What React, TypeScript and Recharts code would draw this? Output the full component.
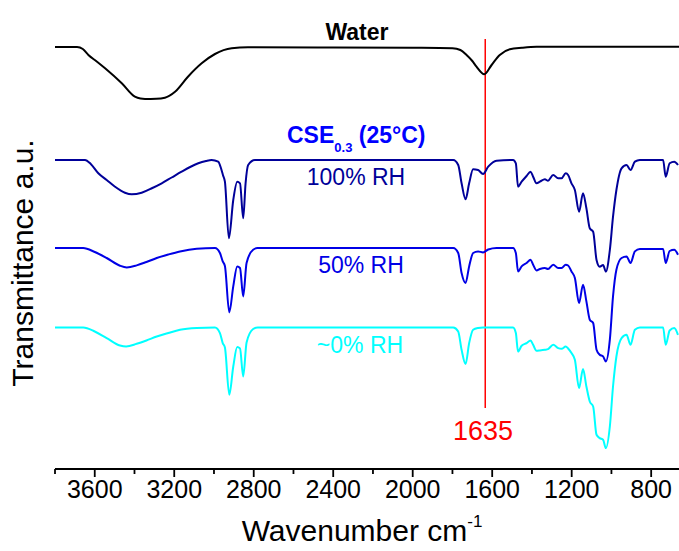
import { CartesianGrid, Line, LineChart, ReferenceLine, XAxis, YAxis } from "recharts";

// FTIR-спектры: пары [волновое число, отклонение от базовой линии]
const WATER: [number, number][] = [
  [3800, 0], [3689, 0], [3660, -2], [3632, -8], [3590, -14.5], [3548, -21.3],
  [3464, -36.3], [3398, -49.7], [3370, -51.6], [3347, -52], [3290, -51.8],
  [3247, -50.7], [3196, -44.7], [3131, -29.7], [3062, -16.3], [2995, -7],
  [2911, -1.3], [2829, -0.3], [2400, -0.5], [2000, -0.8], [1800, -1.2],
  [1760, -3], [1729, -8], [1700, -14], [1679, -19.7], [1640, -27.3],
  [1603, -18], [1562, -8], [1511, -2.3], [1450, -0.8], [1377, 0.2],
  [1000, 0.3], [660, 0.3],
];

const RH100: [number, number][] = [
  [3800, 0], [3649, 0], [3620, -4], [3582, -13.3], [3540, -20], [3498, -26.7],
  [3448, -32.7], [3414, -34.3], [3364, -32.7], [3310, -28], [3263, -23.3],
  [3213, -17.5], [3163, -11.7], [3120, -7], [3079, -3.3], [3040, -1],
  [3012, 0], [2979, -1.7], [2965, -8], [2955, -15], [2945, -21.7],
  [2925, -78.3], [2903, -40], [2883, -21.7], [2869, -23.3], [2853, -58.3],
  [2841, -23.3], [2828, -5], [2794, 0], [1796, 0], [1771, -5], [1754, -23.3],
  [1734, -39.3], [1716, -23.3], [1696, -9.3], [1671, -10], [1646, -14],
  [1620, -6.7], [1578, -0.7], [1495, 0], [1481, -3.3], [1470, -26.7],
  [1452, -21.7], [1427, -16], [1407, -11.7], [1394, -16.7], [1377, -23.3],
  [1360, -21.7], [1335, -19.3], [1319, -20.7], [1293, -15], [1268, -18.3],
  [1251, -18.3], [1230, -13.3], [1218, -15], [1201, -23.3], [1184, -30],
  [1163, -51.7], [1143, -33.3], [1126, -48.3], [1109, -68.3], [1092, -71.7],
  [1075, -100], [1059, -106.7], [1042, -105], [1028, -111.7], [1008, -90],
  [992, -56.7], [975, -30], [949, -8.3], [924, -5], [904, -10], [882, -1.7],
  [857, 0], [740, 0], [727, -16.7], [707, -3.3], [684, -1.7], [665, -5],
];

const RH50: [number, number][] = [
  [3800, 0], [3658, 0], [3600, -4], [3540, -10], [3473, -17.7], [3439, -19.4],
  [3389, -17.4], [3340, -14], [3288, -10], [3230, -6.5], [3171, -3.4],
  [3087, -0.7], [2995, 0], [2970, -5], [2956, -13.4], [2945, -18],
  [2923, -64.4], [2903, -38.4], [2883, -18.4], [2869, -20], [2853, -48.4],
  [2836, -15], [2803, -1.7], [2780, 0], [1796, 0], [1771, -5], [1754, -25],
  [1734, -35], [1716, -18.4], [1696, -5], [1671, -3.4], [1646, -4.4],
  [1620, -1.5], [1578, 0], [1495, 0], [1481, -5], [1470, -23.4], [1452, -18.4],
  [1427, -15], [1407, -11.7], [1394, -16.7], [1377, -22.4], [1360, -21],
  [1335, -20], [1319, -21], [1293, -16.7], [1268, -20], [1251, -20],
  [1230, -16.7], [1218, -17.5], [1201, -23.4], [1184, -30], [1163, -55],
  [1143, -36.7], [1126, -53.4], [1109, -71.7], [1092, -75], [1075, -101.7],
  [1059, -106.7], [1042, -108.4], [1028, -113.4], [1008, -91.7], [992, -48.4],
  [975, -21.7], [949, -10], [924, -8.4], [904, -15], [882, -3.4], [857, -1],
  [740, -1], [727, -15], [707, -3], [684, -1.7], [665, -6.7],
];

const RH0: [number, number][] = [
  [3800, 0], [3658, 0], [3600, -4], [3540, -10.6], [3473, -18], [3442, -19],
  [3389, -16.3], [3340, -13], [3288, -9], [3230, -5.5], [3171, -2.3],
  [3087, -0.5], [2995, 0], [2970, -5.6], [2956, -15.6], [2945, -20],
  [2923, -67.3], [2903, -39], [2883, -19.6], [2869, -21], [2853, -49],
  [2836, -15], [2803, -1.5], [2780, 0], [1796, 0], [1771, -4], [1754, -22.3],
  [1734, -36.6], [1716, -15.6], [1696, -2.3], [1671, -0.5], [1646, 0],
  [1495, 0], [1481, -5.6], [1470, -24], [1452, -18.3], [1427, -15.6],
  [1407, -13], [1394, -17.3], [1377, -23.3], [1360, -23], [1335, -22.3],
  [1319, -21.6], [1293, -17.3], [1268, -20.6], [1251, -21.3], [1230, -19],
  [1218, -21], [1201, -25.6], [1184, -32.3], [1163, -60.6], [1143, -41.6],
  [1126, -59], [1109, -74], [1092, -79], [1075, -107.3], [1059, -110.6],
  [1042, -112.3], [1028, -120.6], [1008, -99], [992, -59], [975, -29],
  [949, -10.6], [924, -7.3], [904, -17.3], [882, -2.3], [857, 0], [740, 0],
  [727, -17.3], [707, -3], [684, -0.5], [665, -7.3],
];

// смещения кривых по вертикали (стопка спектров)
const OFFSET_WATER = 422;
const OFFSET_100 = 309;
const OFFSET_50 = 221;
const OFFSET_0 = 141.5;

const X_TICKS = [3800, 3600, 3400, 3200, 3000, 2800, 2600, 2400, 2200, 2000, 1800, 1600, 1400, 1200, 1000, 800];
const MARK_WN = 1635;

const FONT = "Arial, 'Liberation Sans', sans-serif";

function rows(points: [number, number][], offset: number) {
  return points.map(([wn, d]) => ({ wn, t: offset + d }));
}

function WaveTick({ x, y, payload }: { x: number; y: number; payload: { value: number } }) {
  const major = payload.value % 400 === 0;
  return (
    <g>
      <line x1={x} x2={x} y1={y} y2={y + (major ? 8 : 5)} stroke="#000" strokeWidth={1.8} />
      {major && (
        <text x={x} y={y + 29} textAnchor="middle" fontSize={25} fontFamily={FONT} fill="#000">
          {payload.value}
        </text>
      )}
    </g>
  );
}

export default function App() {
  return (
    <div style={{ position: "absolute", left: 0, top: 0, width: 679, height: 551, background: "#fff" }}>
      <LineChart width={679} height={551} margin={{ top: 14, right: 0, bottom: 0, left: 55 }}>
        <CartesianGrid stroke="none" />
        <XAxis
          xAxisId="b"
          dataKey="wn"
          type="number"
          domain={[660, 3800]}
          reversed
          allowDataOverflow
          ticks={X_TICKS}
          interval={0}
          height={82}
          tickSize={0}
          tickMargin={0}
          tickLine={false}
          axisLine={{ stroke: "#000", strokeWidth: 2 }}
          tick={(props: any) => <WaveTick {...props} />}
        />
        <XAxis
          xAxisId="t"
          orientation="top"
          dataKey="wn"
          type="number"
          domain={[660, 3800]}
          reversed
          allowDataOverflow
          ticks={X_TICKS}
          interval={0}
          height={0}
          tickSize={3}
          tick={false}
          tickLine={{ stroke: "#333" }}
          axisLine={{ stroke: "#111", strokeWidth: 2 }}
        />
        <YAxis
          type="number"
          domain={[0, 455]}
          width={0}
          tick={false}
          tickLine={false}
          axisLine={{ stroke: "#000", strokeWidth: 2 }}
        />
        <ReferenceLine
          xAxisId="b"
          segment={[{ x: MARK_WN, y: 61 }, { x: MARK_WN, y: 430 }]}
          stroke="#ff0000"
          strokeWidth={1.5}
        />
        <Line xAxisId="b" data={rows(WATER, OFFSET_WATER)} dataKey="t" type="monotone" stroke="#000" strokeWidth={2} dot={false} isAnimationActive={false} />
        <Line xAxisId="b" data={rows(RH100, OFFSET_100)} dataKey="t" type="monotone" stroke="#000099" strokeWidth={2} dot={false} isAnimationActive={false} />
        <Line xAxisId="b" data={rows(RH50, OFFSET_50)} dataKey="t" type="monotone" stroke="#0000e6" strokeWidth={2} dot={false} isAnimationActive={false} />
        <Line xAxisId="b" data={rows(RH0, OFFSET_0)} dataKey="t" type="monotone" stroke="#00ffff" strokeWidth={2} dot={false} isAnimationActive={false} />
      </LineChart>
      <svg width={679} height={551} style={{ position: "absolute", left: 0, top: 0, pointerEvents: "none" }} fontFamily={FONT}>
        <text x={357} y={40} textAnchor="middle" fontSize={23} fontWeight="bold" fill="#000">Water</text>
        <text x={287} y={143} fontSize={23} fontWeight="bold" fill="#0000ff">
          CSE
          <tspan fontSize={13} dy={9}>0.3</tspan>
          <tspan dy={-9}> (25°C)</tspan>
        </text>
        <text x={356} y={185} textAnchor="middle" fontSize={23} fill="#000099">100% RH</text>
        <text x={361} y={273} textAnchor="middle" fontSize={23} fill="#0000e6">50% RH</text>
        <text x={360} y={353} textAnchor="middle" fontSize={23} fill="#00ffff">~0% RH</text>
        <text x={483} y={440} textAnchor="middle" fontSize={27} fill="#ff0000">1635</text>
        <text transform="translate(33,263) rotate(-90)" textAnchor="middle" fontSize={30} fill="#000">Transmittance a.u.</text>
        <text x={362} y={541} textAnchor="middle" fontSize={30} fill="#000">
          Wavenumber cm
          <tspan fontSize={17} dy={-14}>-1</tspan>
        </text>
      </svg>
    </div>
  );
}
